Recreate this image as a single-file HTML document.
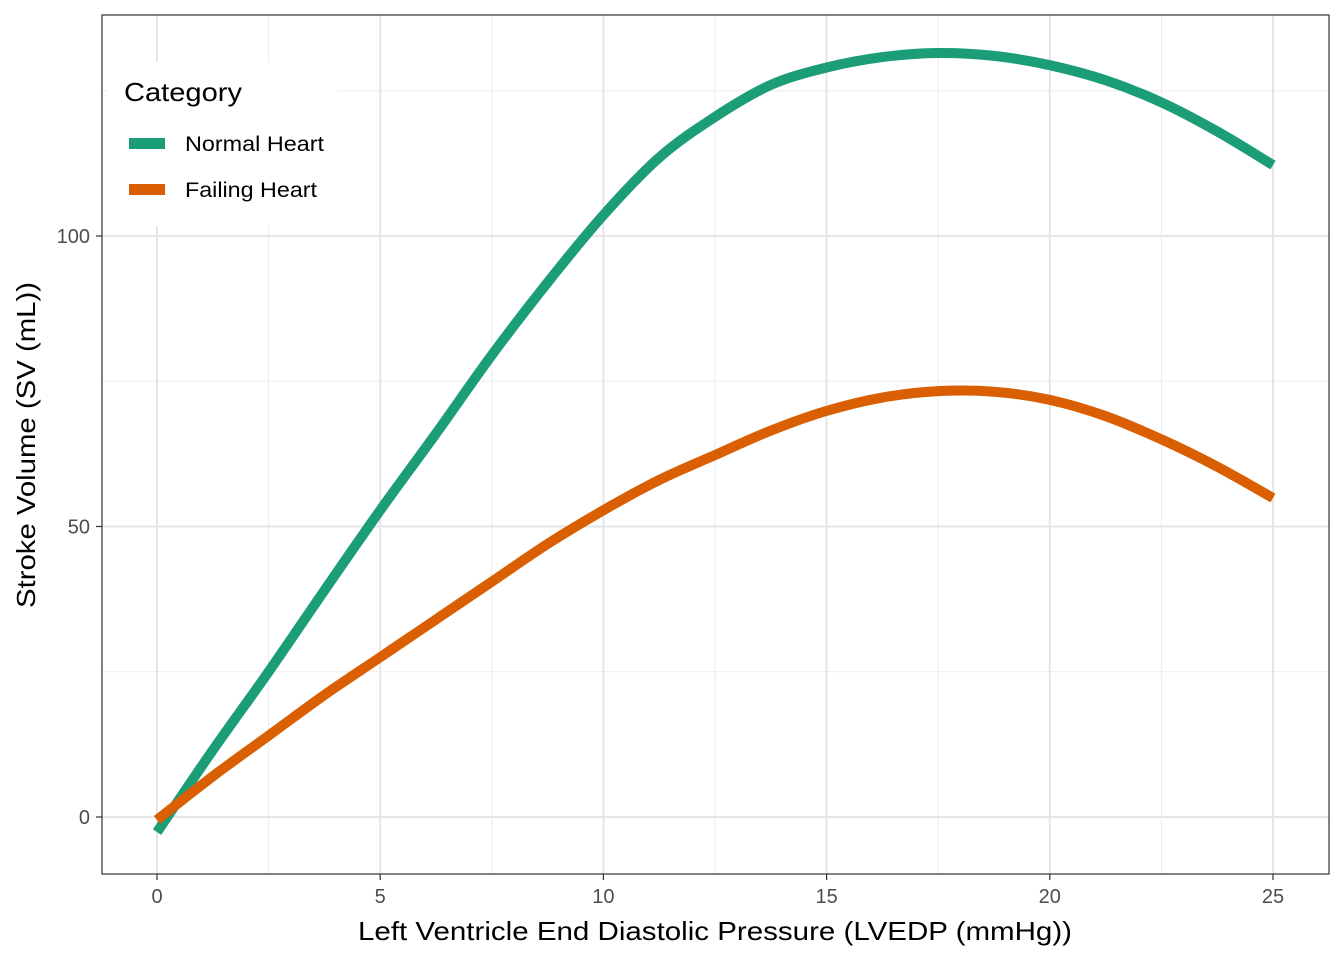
<!DOCTYPE html>
<html><head><meta charset="utf-8"><style>
body{margin:0;background:#fff}
svg text{font-family:"Liberation Sans",Arial,sans-serif}
</style></head><body>
<svg id="chart" width="1344" height="960" xmlns="http://www.w3.org/2000/svg">
<rect x="0" y="0" width="1344" height="960" fill="#fff"/>
<g id="grid"></g>
<g id="lines"></g>
<rect x="102" y="15" width="1227" height="859" fill="none" stroke="#333" stroke-width="1.2"/>
<g id="ticks"></g>
<text x="358" y="940" font-size="26" textLength="714" lengthAdjust="spacingAndGlyphs" fill="#000">Left Ventricle End Diastolic Pressure (LVEDP (mmHg))</text>
<text transform="translate(35,608) rotate(-90)" font-size="26" textLength="326" lengthAdjust="spacingAndGlyphs" fill="#000">Stroke Volume (SV (mL))</text>
<g>
<rect x="108" y="62" width="230" height="164" fill="#fff"/>
<text x="124" y="101" font-size="26" textLength="118" lengthAdjust="spacingAndGlyphs" fill="#000">Category</text>
<g>
<rect x="129" y="138" width="36" height="11" fill="#1B9E77"/>
<text x="185" y="151" font-size="21" textLength="139" lengthAdjust="spacingAndGlyphs" fill="#000">Normal Heart</text></g>
<g>
<rect x="129" y="184" width="36" height="11" fill="#D95F02"/>
<text x="185" y="197" font-size="21" textLength="132" lengthAdjust="spacingAndGlyphs" fill="#000">Failing Heart</text></g>
</g>
</svg>
<script>
const xs=[0,1.25,2.5,3.75,5,6.25,7.5,8.75,10,11.25,12.5,13.75,15,16.25,17.5,18.75,20,21.25,22.5,23.75,25];
const normalSV=[-2.6,11.5,25,39,52.8,66,79.5,92,103.6,113.5,120.5,126,129,130.8,131.5,131,129.4,126.8,123,118,112.2];
const failingSV=[-0.5,7,14,21,27.5,34,40.5,47,52.8,58,62.3,66.5,69.9,72.2,73.3,73.2,71.8,69,65,60.3,54.9];
const xTicks=[0,5,10,15,20,25];
const yTicks=[0,50,100];
const X=v=>157+v*(1273-157)/25;
const Y=v=>817-v*(817-236)/100;
const NS="http://www.w3.org/2000/svg";
const grid=document.getElementById('grid'),ticks=document.getElementById('ticks'),lines=document.getElementById('lines');
function mk(t,a,p){const e=document.createElementNS(NS,t);for(const k in a)e.setAttribute(k,a[k]);p.appendChild(e);return e;}
mk('rect',{x:102,y:15,width:1227,height:859,fill:'#fff'},grid);
[2.5,7.5,12.5,17.5,22.5].forEach(v=>{mk('line',{x1:X(v),x2:X(v),y1:15,y2:874,stroke:'#ebebeb','stroke-width':1},grid);});
[25,75,125].forEach(v=>{mk('line',{x1:102,x2:1329,y1:Y(v),y2:Y(v),stroke:'#ebebeb','stroke-width':1},grid);});
xTicks.forEach(v=>{
const l=mk('line',{x1:X(v),x2:X(v),y1:15,y2:874,stroke:'#e5e5e5','stroke-width':2},grid);


mk('line',{x1:X(v),x2:X(v),y1:874,y2:880,stroke:'#333','stroke-width':1.2},ticks);
const t=mk('text',{x:X(v),y:903,'text-anchor':'middle','font-size':20,fill:'#4d4d4d'},ticks);t.textContent=v;


});
yTicks.forEach(v=>{
const l=mk('line',{x1:102,x2:1329,y1:Y(v),y2:Y(v),stroke:'#e5e5e5','stroke-width':2},grid);


mk('line',{x1:96,x2:102,y1:Y(v),y2:Y(v),stroke:'#333','stroke-width':1.2},ticks);
const t=mk('text',{x:90,y:Y(v)+7,'text-anchor':'end','font-size':20,fill:'#4d4d4d'},ticks);t.textContent=v;


});
function path(ys){
const p=xs.map((x,i)=>[X(x),Y(ys[i])]);
let d='M'+p[0][0]+','+p[0][1];
for(let i=0;i<p.length-1;i++){
const p0=p[Math.max(i-1,0)],p1=p[i],p2=p[i+1],p3=p[Math.min(i+2,p.length-1)];
d+=' C'+(p1[0]+(p2[0]-p0[0])/6)+','+(p1[1]+(p2[1]-p0[1])/6)+' '+(p2[0]-(p3[0]-p1[0])/6)+','+(p2[1]-(p3[1]-p1[1])/6)+' '+p2[0]+','+p2[1];}
return d;}
const n=mk('path',{d:path(normalSV),fill:'none',stroke:'#1B9E77','stroke-width':10},lines);


const f=mk('path',{d:path(failingSV),fill:'none',stroke:'#D95F02','stroke-width':10},lines);


</script>
</body></html>
